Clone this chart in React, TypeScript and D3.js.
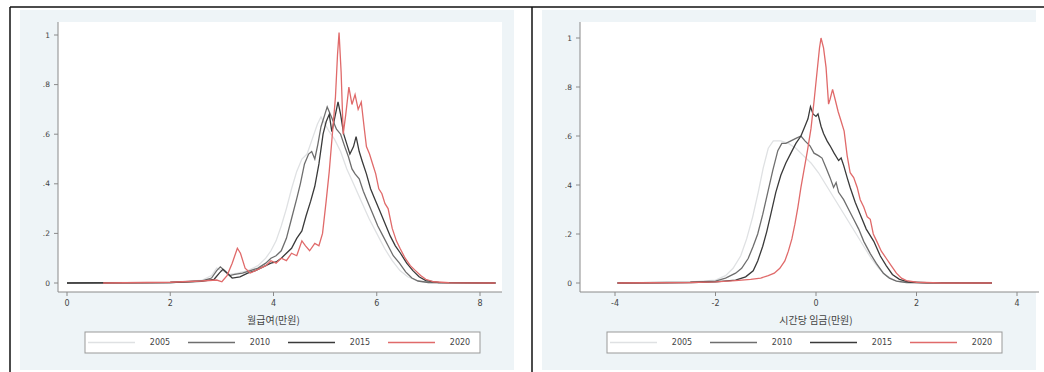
import React from 'react';
import * as d3 from 'd3';

// legend years and line colours
const years = ['2005', '2010', '2015', '2020'];
const colors = ['#dfe1e3', '#6e6e6e', '#3a3a3a', '#e06a6a'];

// log monthly wage densities [x, density]
const monthly2005: [number, number][] = [[0,0],[2.0,0.003],[2.6,0.01],[2.8,0.03],[2.9,0.06],[3.0,0.05],[3.15,0.035],[3.3,0.04],[3.5,0.05],[3.7,0.07],[3.85,0.1],[3.95,0.13],[4.05,0.17],[4.15,0.23],[4.25,0.3],[4.35,0.38],[4.45,0.45],[4.55,0.5],[4.65,0.52],[4.75,0.58],[4.85,0.64],[4.92,0.67],[5.0,0.64],[5.08,0.61],[5.18,0.58],[5.3,0.53],[5.42,0.46],[5.55,0.4],[5.7,0.33],[5.85,0.26],[6.0,0.2],[6.15,0.14],[6.3,0.09],[6.45,0.05],[6.6,0.025],[6.8,0.008],[7.0,0.002],[8.3,0]];
const monthly2010: [number, number][] = [[0,0],[2.0,0.002],[2.6,0.008],[2.8,0.02],[2.9,0.05],[2.97,0.065],[3.05,0.05],[3.15,0.03],[3.25,0.035],[3.4,0.04],[3.55,0.05],[3.7,0.06],[3.85,0.08],[3.95,0.1],[4.05,0.11],[4.15,0.13],[4.25,0.18],[4.35,0.26],[4.45,0.34],[4.52,0.4],[4.6,0.48],[4.68,0.52],[4.74,0.53],[4.8,0.5],[4.86,0.56],[4.92,0.63],[4.98,0.67],[5.04,0.71],[5.1,0.68],[5.16,0.65],[5.22,0.62],[5.3,0.6],[5.38,0.55],[5.45,0.51],[5.52,0.46],[5.58,0.44],[5.66,0.42],[5.74,0.37],[5.82,0.33],[5.92,0.28],[6.02,0.23],[6.12,0.19],[6.22,0.15],[6.32,0.11],[6.44,0.08],[6.56,0.045],[6.68,0.02],[6.8,0.008],[7.0,0.002],[8.3,0]];
const monthly2015: [number, number][] = [[0,0],[2.0,0.002],[2.6,0.007],[2.85,0.015],[2.95,0.04],[3.02,0.055],[3.1,0.04],[3.2,0.02],[3.35,0.025],[3.5,0.04],[3.65,0.05],[3.8,0.065],[3.95,0.08],[4.05,0.085],[4.15,0.1],[4.25,0.12],[4.35,0.14],[4.45,0.18],[4.55,0.21],[4.63,0.27],[4.72,0.33],[4.8,0.39],[4.88,0.48],[4.96,0.6],[5.02,0.65],[5.08,0.68],[5.13,0.61],[5.18,0.66],[5.25,0.73],[5.3,0.68],[5.36,0.6],[5.42,0.56],[5.48,0.52],[5.55,0.55],[5.6,0.59],[5.66,0.53],[5.72,0.49],[5.8,0.44],[5.88,0.38],[5.96,0.34],[6.06,0.29],[6.16,0.24],[6.26,0.19],[6.36,0.15],[6.46,0.12],[6.58,0.08],[6.7,0.05],[6.82,0.025],[6.95,0.01],[7.2,0.002],[8.3,0]];
const monthly2020: [number, number][] = [[0.7,0],[2.0,0.003],[2.6,0.008],[2.9,0.012],[3.0,0.005],[3.1,0.03],[3.2,0.08],[3.3,0.14],[3.36,0.12],[3.45,0.06],[3.55,0.04],[3.65,0.05],[3.75,0.06],[3.85,0.07],[3.95,0.09],[4.05,0.08],[4.15,0.1],[4.25,0.09],[4.35,0.12],[4.45,0.11],[4.55,0.17],[4.62,0.15],[4.7,0.13],[4.8,0.16],[4.88,0.15],[4.95,0.2],[5.02,0.33],[5.08,0.45],[5.14,0.6],[5.2,0.75],[5.24,0.92],[5.27,1.01],[5.31,0.85],[5.35,0.6],[5.4,0.68],[5.46,0.79],[5.52,0.72],[5.58,0.76],[5.64,0.7],[5.7,0.73],[5.76,0.62],[5.8,0.55],[5.86,0.52],[5.92,0.48],[5.98,0.44],[6.04,0.38],[6.1,0.36],[6.16,0.32],[6.22,0.3],[6.3,0.22],[6.38,0.17],[6.45,0.14],[6.55,0.1],[6.65,0.07],[6.75,0.05],[6.85,0.03],[6.95,0.015],[7.1,0.005],[7.4,0.001],[8.3,0]];

// log hourly wage densities [x, density]
const hourly2005: [number, number][] = [[-3.95,0],[-2.5,0.004],[-2.0,0.012],[-1.8,0.03],[-1.65,0.06],[-1.5,0.11],[-1.38,0.18],[-1.26,0.27],[-1.15,0.37],[-1.05,0.47],[-0.95,0.55],[-0.85,0.58],[-0.7,0.58],[-0.55,0.57],[-0.4,0.55],[-0.25,0.52],[-0.1,0.49],[0.05,0.45],[0.2,0.4],[0.35,0.35],[0.5,0.3],[0.65,0.25],[0.8,0.2],[0.95,0.15],[1.1,0.1],[1.25,0.06],[1.4,0.03],[1.55,0.012],[1.7,0.004],[2.0,0.001],[3.5,0]];
const hourly2010: [number, number][] = [[-3.95,0],[-2.5,0.003],[-2.0,0.008],[-1.8,0.02],[-1.6,0.04],[-1.48,0.06],[-1.35,0.1],[-1.25,0.15],[-1.16,0.2],[-1.06,0.28],[-0.96,0.37],[-0.86,0.46],[-0.76,0.54],[-0.68,0.57],[-0.6,0.57],[-0.5,0.58],[-0.4,0.59],[-0.3,0.6],[-0.22,0.58],[-0.12,0.56],[-0.04,0.53],[0.05,0.52],[0.12,0.51],[0.2,0.47],[0.28,0.43],[0.35,0.39],[0.4,0.41],[0.45,0.37],[0.55,0.34],[0.65,0.3],[0.75,0.26],[0.85,0.22],[0.95,0.17],[1.08,0.12],[1.2,0.08],[1.34,0.04],[1.46,0.02],[1.6,0.008],[1.8,0.002],[3.5,0]];
const hourly2015: [number, number][] = [[-3.95,0],[-2.5,0.002],[-2.0,0.005],[-1.6,0.012],[-1.4,0.025],[-1.25,0.05],[-1.16,0.09],[-1.06,0.15],[-0.98,0.21],[-0.9,0.28],[-0.8,0.37],[-0.7,0.44],[-0.6,0.49],[-0.5,0.53],[-0.4,0.57],[-0.3,0.6],[-0.22,0.64],[-0.16,0.67],[-0.11,0.72],[-0.06,0.69],[0.0,0.68],[0.04,0.69],[0.1,0.64],[0.15,0.61],[0.22,0.58],[0.28,0.56],[0.36,0.53],[0.45,0.5],[0.5,0.51],[0.55,0.48],[0.62,0.43],[0.68,0.39],[0.78,0.33],[0.88,0.28],[1.0,0.22],[1.15,0.17],[1.28,0.11],[1.4,0.07],[1.52,0.035],[1.66,0.015],[1.85,0.004],[2.2,0.001],[3.5,0]];
const hourly2020: [number, number][] = [[-3.95,0],[-2.5,0.002],[-2.0,0.005],[-1.6,0.01],[-1.3,0.015],[-1.1,0.02],[-0.95,0.03],[-0.83,0.04],[-0.72,0.06],[-0.62,0.09],[-0.55,0.13],[-0.48,0.18],[-0.42,0.24],[-0.36,0.31],[-0.3,0.39],[-0.24,0.46],[-0.17,0.54],[-0.1,0.63],[-0.04,0.74],[0.02,0.86],[0.07,0.96],[0.1,1.0],[0.15,0.96],[0.2,0.88],[0.25,0.73],[0.28,0.75],[0.33,0.79],[0.38,0.75],[0.44,0.7],[0.5,0.66],[0.56,0.62],[0.62,0.52],[0.68,0.45],[0.75,0.43],[0.82,0.39],[0.88,0.34],[0.95,0.31],[1.02,0.27],[1.08,0.26],[1.14,0.2],[1.21,0.17],[1.3,0.13],[1.4,0.1],[1.5,0.07],[1.6,0.04],[1.7,0.02],[1.8,0.01],[2.0,0.003],[2.5,0],[3.5,0]];

const yTicks = [0, 0.2, 0.4, 0.6, 0.8, 1];
const monthlyTicks = [0, 2, 4, 6, 8];
const hourlyTicks = [-4, -2, 0, 2, 4];

const fmtY = (v: number) => (v === 0 ? '0' : v === 1 ? '1' : String(v).replace('0.', '.'));

type PanelProps = {
  x0: number;
  series: [number, number][][];
  xDomain: [number, number];
  xRange: [number, number];
  yTop: number;
  xTicks: number[];
  title: string;
};

function Panel({ x0, series, xDomain, xRange, yTop, xTicks, title }: PanelProps) {
  const x = d3.scaleLinear().domain(xDomain).range(xRange);
  const y = d3.scaleLinear().domain([0, 1]).range([283, yTop]);
  const line = d3.line<[number, number]>().x(d => x(d[0])).y(d => y(d[1])).curve(d3.curveLinear);
  const plotL = 58, plotR = xRange[1] + 22, plotT = 22, plotB = 292;
  const legendX = 85, legendW = 395, itemW = 100;

  return (
    <g transform={`translate(${x0},0)`}>
      {/* graph region */}
      <rect x={20} y={10} width={494} height={360} fill='#eef4f7' />
      {/* plot region */}
      <rect x={plotL} y={plotT} width={plotR - plotL} height={plotB - plotT} fill='#ffffff' />

      {/* density lines */}
      {series.map((s, i) => (
        <path key={i} d={line(s) || ''} fill='none' stroke={colors[i]} strokeWidth={1.3} />
      ))}

      {/* y axis */}
      <line x1={plotL} y1={plotT} x2={plotL} y2={plotB} stroke='#8a8a8a' strokeWidth={1} />
      {yTicks.map(t => (
        <g key={t}>
          <line x1={plotL - 4} y1={y(t)} x2={plotL} y2={y(t)} stroke='#8a8a8a' />
          <text x={plotL - 8} y={y(t)} dy='0.35em' textAnchor='end' fontSize={7.5} fill='#444'
            fontFamily='DejaVu Sans'>{fmtY(t)}</text>
        </g>
      ))}

      {/* x axis */}
      <line x1={plotL} y1={plotB} x2={plotR} y2={plotB} stroke='#8a8a8a' strokeWidth={1} />
      {xTicks.map(t => (
        <g key={t}>
          <line x1={x(t)} y1={plotB} x2={x(t)} y2={plotB + 4} stroke='#8a8a8a' />
          <text x={x(t)} y={plotB + 14} textAnchor='middle' fontSize={8} fill='#444'
            fontFamily='DejaVu Sans'>{t < 0 ? '-' + Math.abs(t) : t}</text>
        </g>
      ))}
      <text x={(x(xTicks[0]) + x(xTicks[xTicks.length - 1])) / 2} y={324} textAnchor='middle' fontSize={10}
        fill='#444' fontFamily='Noto Sans CJK KR'>{title}</text>

      {/* legend */}
      <rect x={legendX} y={332} width={legendW} height={21} fill='#ffffff' stroke='#999' strokeWidth={1} />
      {years.map((yr, i) => (
        <g key={yr} transform={`translate(${legendX + 3 + i * itemW},342.5)`}>
          <line x1={0} y1={0} x2={47} y2={0} stroke={colors[i]} strokeWidth={1.3} />
          <text x={72} y={0} dy='0.35em' textAnchor='middle' fontSize={8} fill='#444'
            fontFamily='DejaVu Sans'>{yr}</text>
        </g>
      ))}
    </g>
  );
}

export default function App() {
  return (
    <svg width={1044} height={372} style={{ position: 'absolute', left: 0, top: 0, background: '#ffffff' }}>
      <Panel x0={0} series={[monthly2005, monthly2010, monthly2015, monthly2020]}
        xDomain={[0, 8]} xRange={[67, 480]} yTop={35} xTicks={monthlyTicks} title='월급여(만원)' />
      <Panel x0={522} series={[hourly2005, hourly2010, hourly2015, hourly2020]}
        xDomain={[-4, 4]} xRange={[93, 495]} yTop={38} xTicks={hourlyTicks} title='시간당 임금(만원)' />
      {/* table frame */}
      <line x1={10} y1={7} x2={1044} y2={7} stroke='#111' strokeWidth={1.5} />
      <line x1={10} y1={7} x2={10} y2={372} stroke='#111' strokeWidth={1.5} />
      <line x1={532} y1={7} x2={532} y2={372} stroke='#111' strokeWidth={1.5} />
    </svg>
  );
}
